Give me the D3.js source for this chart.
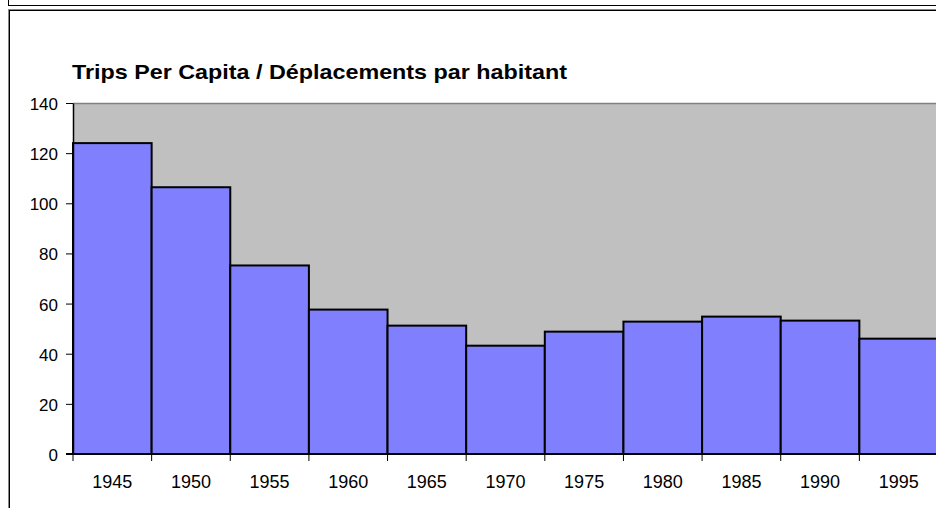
<!DOCTYPE html>
<html><head><meta charset="utf-8">
<script src="https://cdn.jsdelivr.net/npm/d3@7/dist/d3.min.js"></script>
<style>html,body{margin:0;padding:0;background:#fff;overflow:hidden}</style>
</head><body>
<svg id="c" width="936" height="508"></svg>
<script>
const years = ["1945","1950","1955","1960","1965","1970","1975","1980","1985","1990","1995"];
const trips = [124, 106.4, 75.2, 57.6, 51.2, 43.2, 48.8, 52.8, 54.8, 53.2, 46];
const yTicks = [0,20,40,60,80,100,120,140];
const title = "Trips Per Capita / Déplacements par habitant";

const svg = d3.select("#c");
const font = "'Liberation Sans', Arial, sans-serif";
const L = 73, R = 938, T = 103, B = 454;

// frame lines
svg.append("line").attr("x1",8.5).attr("x2",8.5).attr("y1",0).attr("y2",5).attr("stroke","#000");
svg.append("line").attr("x1",8).attr("x2",936).attr("y1",5.5).attr("y2",5.5).attr("stroke","#000");
svg.append("line").attr("x1",8).attr("x2",936).attr("y1",9.5).attr("y2",9.5).attr("stroke","#888");
svg.append("line").attr("x1",9).attr("x2",936).attr("y1",10.5).attr("y2",10.5).attr("stroke","#000");
svg.append("line").attr("x1",8.5).attr("x2",8.5).attr("y1",9).attr("y2",508).attr("stroke","#888");
svg.append("line").attr("x1",9.5).attr("x2",9.5).attr("y1",10).attr("y2",508).attr("stroke","#000");

const x = d3.scaleBand().domain(years).range([L, R]).padding(0);
const y = d3.scaleLinear().domain([0,140]).range([B, T]);

svg.append("rect").attr("x",L).attr("y",T).attr("width",R-L).attr("height",B-T).attr("fill","#C0C0C0");
svg.append("line").attr("x1",L).attr("x2",R).attr("y1",T+0.5).attr("y2",T+0.5).attr("stroke","#808080").attr("stroke-width",1.5);

svg.append("g").selectAll("rect").data(years).join("rect")
  .attr("x", d => x(d)).attr("y", (d,i) => y(trips[i]))
  .attr("width", x.bandwidth()).attr("height", (d,i) => B - y(trips[i]))
  .attr("fill","#8080FF").attr("stroke","#000").attr("stroke-width",2);

// y axis
const ya = svg.append("g").attr("transform",`translate(${L},0)`)
  .call(d3.axisLeft(y).tickValues(yTicks).tickSize(7).tickPadding(8).tickSizeOuter(0));
ya.select(".domain").attr("stroke","#000").attr("stroke-width",1.5);
ya.selectAll("text").attr("font-family",font).attr("font-size","17px").attr("fill","#000").attr("dy","0.38em");

// x axis
const xa = svg.append("g").attr("transform",`translate(0,${B})`);
xa.append("line").attr("x1",L-7).attr("x2",R).attr("y1",0).attr("y2",0).attr("stroke","#000").attr("stroke-width",2);
const bounds = years.map(d => x(d)).concat([R]);
xa.selectAll("line.t").data(bounds).join("line").attr("class","t")
  .attr("x1",d=>d).attr("x2",d=>d).attr("y1",0).attr("y2",7).attr("stroke","#000");
xa.selectAll("text").data(years).join("text")
  .attr("x", d => x(d) + x.bandwidth()/2).attr("y", 34)
  .attr("text-anchor","middle").attr("font-family",font).attr("font-size","18px").text(d=>d);

svg.append("text").attr("x",72).attr("y",79).attr("font-family",font).attr("font-weight","bold")
  .attr("font-size","20.5px").attr("textLength",495).attr("lengthAdjust","spacingAndGlyphs").text(title);
</script>
</body></html>
